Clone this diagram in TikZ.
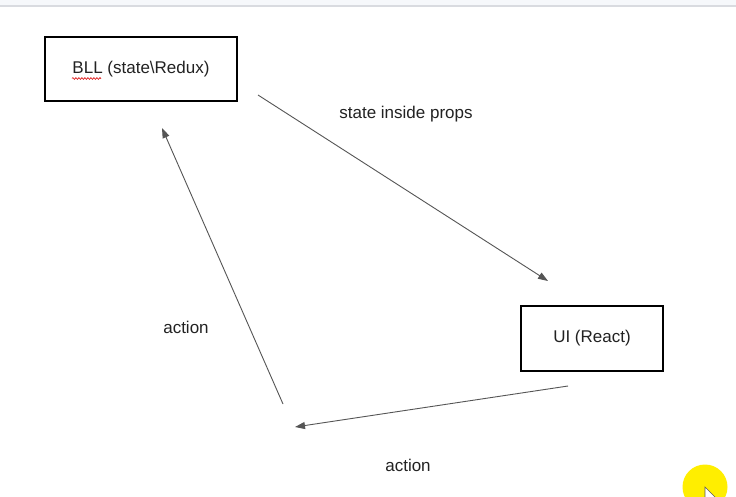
\documentclass[tikz,border=0pt]{standalone}
\usepackage{fontspec}
\setmainfont{Liberation Sans}
\usetikzlibrary{arrows.meta,decorations.pathmorphing}
\definecolor{txt}{HTML}{222222}
\definecolor{lnc}{HTML}{555555}
\definecolor{barbg}{HTML}{F6F8FB}
\definecolor{barln}{HTML}{D9DBE0}
\definecolor{hilite}{HTML}{FFEE00}
\tikzset{
  box/.style={draw=black,line width=2.6pt,inner sep=0pt,font=\fontsize{17}{20}\selectfont,text=txt},
  conn/.style={draw=lnc,line width=0.9pt,-{Triangle[length=10pt,width=7pt]}},
  lbl/.style={font=\fontsize{17}{20}\selectfont,text=txt,inner sep=0pt}
}
\begin{document}
\begin{tikzpicture}[x=1pt,y=-1pt]
\useasboundingbox (0,0) rectangle (736,496);
\fill[white] (0,0) rectangle (736,496);
\fill[barbg] (0,0) rectangle (736,5.5);
\draw[barln,line width=1.2pt] (0,6) -- (736,6);
\node[box,minimum width=192pt,minimum height=64pt] (bll) at (141,69) {BLL (state\textbackslash Redux)};
\node[box,minimum width=142pt,minimum height=65pt] (ui) at (592,338.5) {UI (React)};
\coordinate (u1) at (72,78.5);
\coordinate (u2) at (101,78.5);
\draw[red!85!black,line width=0.6pt,decorate,decoration={snake,amplitude=0.9pt,segment length=3pt}] (u1) -- (u2);
\coordinate (a1s) at (258,95);
\coordinate (a1e) at (548,281);
\coordinate (a2s) at (283,404);
\coordinate (a2e) at (162,128);
\coordinate (a3s) at (568,386);
\coordinate (a3e) at (295,427);
\draw[conn] (a1s) -- (a1e);
\draw[conn] (a2s) -- (a2e);
\draw[conn] (a3s) -- (a3e);
\node[lbl] (l1) at (406,114) {state inside props};
\node[lbl] (l2) at (186,327) {action};
\node[lbl] (l3) at (408,465) {action};
\fill[hilite] (705,487) circle (22.5);
\draw[fill=white,draw=gray!70!black,line width=0.6pt] (705,487) -- (705,505) -- (709,501) -- (713,509) -- (716,507) -- (712,500) -- (718,500) -- cycle;
\end{tikzpicture}
\end{document}
